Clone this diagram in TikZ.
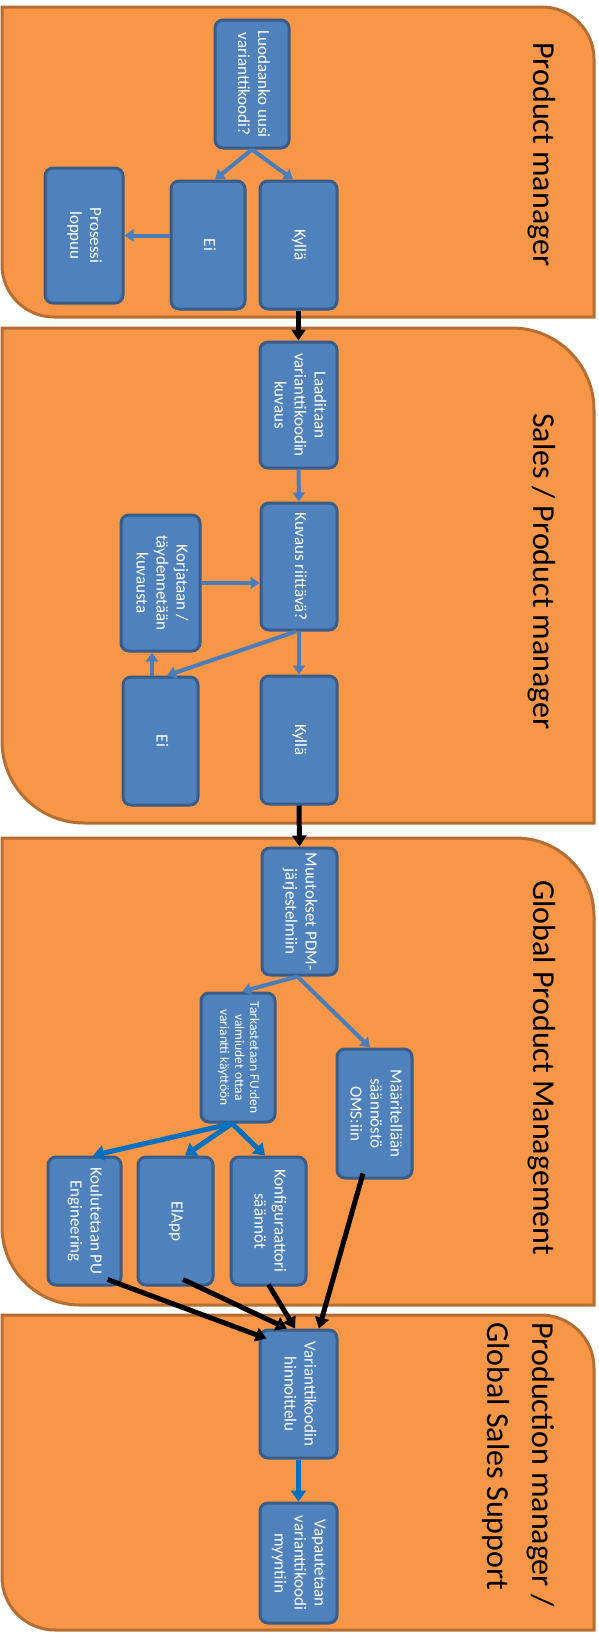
\documentclass[tikz,border=0pt]{standalone}
\usepackage{fontspec}
\setmainfont{Carlito}
\usetikzlibrary{arrows.meta}
\definecolor{laneor}{HTML}{F79646}
\definecolor{lanebd}{HTML}{B66D31}
\definecolor{boxbl}{HTML}{4F81BD}
\definecolor{boxbd}{HTML}{385D8A}
\definecolor{arrbl}{HTML}{4A7EBB}
\definecolor{arrdk}{HTML}{0070C0}
\newcommand\rtxt[2][c]{\rotatebox[origin=c]{-90}{\begin{tabular}{@{}#1@{}}#2\end{tabular}}}
\newcommand\mylane[5]{%
  \draw[lane] (#1,#2) -- ({#3-#5},#2) .. controls ({#3-0.4477*#5},#2) and (#3,{#2+0.4477*#5}) .. (#3,{#2+#5})
   -- (#3,#4) -- ({#1+#5},#4) .. controls ({#1+0.4477*#5},#4) and (#1,{#4-0.4477*#5}) .. (#1,{#4-#5}) -- cycle;}
\begin{document}
\begin{tikzpicture}[x=1pt,y=-1pt,
  lane/.style={fill=laneor,draw=lanebd,line width=3pt},
  lanelbl/.style={inner sep=0pt,text=black,font=\fontsize{32}{45}\selectfont,anchor=north},
  box/.style={draw=boxbd,line width=3pt,fill=boxbl,rounded corners=8pt,inner sep=0pt,
    text=white,font=\fontsize{17}{20}\selectfont},
  ab/.style={-{Triangle[width=12pt,length=9pt]},line width=4pt,draw=arrbl},
  ad/.style={-{Triangle[width=15pt,length=11pt]},line width=5pt,draw=arrdk},
  ak/.style={-{Triangle[width=14pt,length=11pt]},line width=5pt,draw=black}]
\useasboundingbox (0,0) rectangle (598,1633);
% lanes
\mylane{2}{7}{594}{317}{52}
\mylane{2}{328}{594}{823}{82}
\mylane{2}{838}{594}{1305}{78}
\mylane{2}{1315}{594}{1630}{53}
% lane labels
\node[lanelbl] (lb1) at (542,42) {\rtxt{Product manager}};
\node[lanelbl] (lb2) at (542,413) {\rtxt{Sales / Product manager}};
\node[lanelbl] (lb3) at (542,880) {\rtxt{Global Product Management}};
\node[lanelbl] (lb4) at (519,1322) {\rtxt[l]{Production manager /\\Global Sales Support}};
% lane 1
\node[box,minimum width=74pt,minimum height=128pt] (q1) at (252,84) {\rtxt{Luodaanko uusi\\varianttikoodi?}};
\node[box,minimum width=74pt,minimum height=128pt] (ei1) at (208,245) {\rtxt{Ei}};
\node[box,minimum width=77pt,minimum height=128pt] (ky1) at (298.5,245) {\rtxt{Kyllä}};
\node[box,minimum width=78pt,minimum height=135pt] (end1) at (84,235.5) {\rtxt{Prosessi\\loppuu}};
% lane 2
\node[box,minimum width=77pt,minimum height=126pt] (laa) at (298.5,405) {\rtxt{Laaditaan\\varianttikoodin\\kuvaus}};
\node[box,minimum width=76pt,minimum height=127pt] (kuv) at (299,566.5) {\rtxt{Kuvaus riittävä?}};
\node[box,minimum width=79pt,minimum height=136pt] (kor) at (160.5,583) {\rtxt{Korjataan /\\täydennetään\\kuvausta}};
\node[box,minimum width=75pt,minimum height=128pt] (ei2) at (160.5,741) {\rtxt{Ei}};
\node[box,minimum width=76pt,minimum height=128pt] (ky2) at (299,740) {\rtxt{Kyllä}};
% lane 3
\node[box,minimum width=75pt,minimum height=127pt] (muu) at (299.5,911.5) {\rtxt{Muutokset PDM-\\järjestelmiin}};
\node[box,minimum width=74pt,minimum height=129pt,font=\fontsize{13.5}{15}\selectfont] (tar) at (238,1057.5) {\rtxt{Tarkastetaan FU:den\\valmiudet ottaa\\variantti käyttöön}};
\node[box,minimum width=75pt,minimum height=129pt] (maa) at (374.5,1113.5) {\rtxt{Määritellään\\säännöstö\\OMS:iin}};
\node[box,minimum width=73pt,minimum height=128pt] (kou) at (84.5,1221) {\rtxt{Koulutetaan PU\\Engineering}};
\node[box,minimum width=75pt,minimum height=128pt] (ela) at (175.5,1221) {\rtxt{ElApp}};
\node[box,minimum width=75pt,minimum height=128pt] (kon) at (268.5,1221) {\rtxt{Konfiguraattori\\säännöt}};
% lane 4
\node[box,minimum width=77pt,minimum height=128pt] (var) at (298.5,1394) {\rtxt{Varianttikoodin\\hinnoittelu}};
\node[box,minimum width=77pt,minimum height=120pt] (vap) at (298.5,1563) {\rtxt{Vapautetaan\\varianttikoodi\\myyntiin}};
% connectors lane 1
\draw[ab] (q1.south) -- ([xshift=7pt]ei1.north);
\draw[ab] (q1.south) -- ([xshift=-5.5pt]ky1.north);
\draw[ab] (ei1.west |- end1.east) -- (end1.east);
\draw[ak] (ky1.south) -- (laa.north);
% lane 2
\draw[ab] (laa.south) -- (kuv.north);
\draw[ab] (kor.east) -- (kuv.west |- kor.east);
\draw[ab] ([xshift=-3pt]kuv.south) -- ([xshift=6.5pt]ei2.north);
\draw[ab] (kuv.south) -- (ky2.north);
\draw[ab] ([xshift=-8.5pt]ei2.north) -- ([xshift=-8.5pt]kor.south);
\draw[ak] (ky2.south) -- (muu.north);
% lane 3
\draw[ab] ([xshift=-2pt]muu.south) -- ([xshift=4pt]tar.north);
\draw[ab] ([xshift=-2pt]muu.south) -- ([xshift=-4.5pt]maa.north);
\draw[ad] ([xshift=-6pt]tar.south) -- ([xshift=8.5pt]kou.north);
\draw[ad] ([xshift=-6pt]tar.south) -- ([xshift=9.5pt]ela.north);
\draw[ad] ([xshift=-6pt]tar.south) -- ([xshift=-3.5pt]kon.north);
\draw[ak] ([xshift=-11.5pt,yshift=6pt]maa.south) -- ([xshift=20.5pt]var.north);
\draw[ak] ([yshift=2pt]kon.south) -- ([xshift=-3.5pt]var.north);
\draw[ak] ([xshift=7.5pt,yshift=7pt]ela.south) -- ([xshift=-11.5pt]var.north);
\draw[ak] ([xshift=23pt,yshift=7pt]kou.south) -- ([xshift=8pt,yshift=-10pt]var.north west);
% lane 4
\draw[ad] (var.south) -- (vap.north);
\end{tikzpicture}
\end{document}
